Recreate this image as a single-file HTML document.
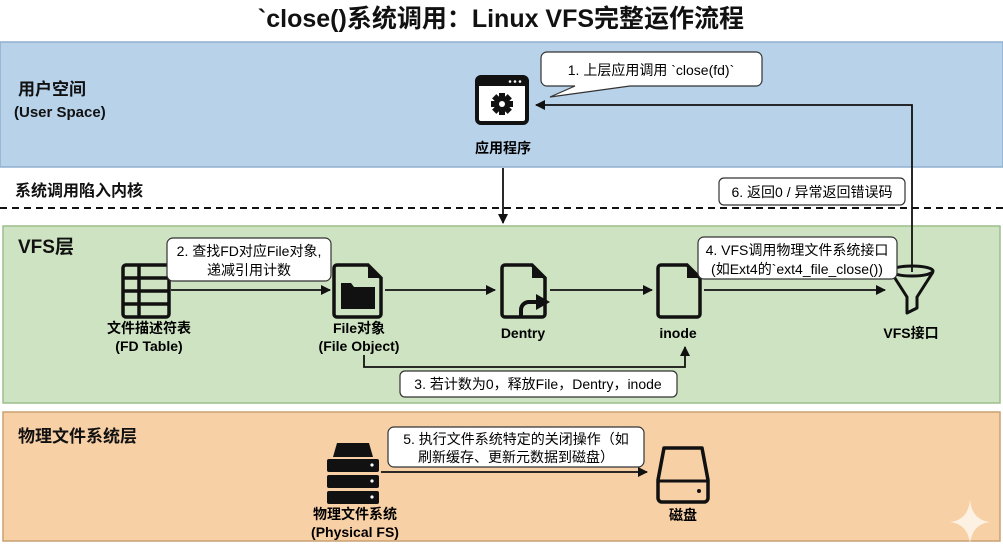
<!DOCTYPE html>
<html><head><meta charset="utf-8"><style>
html,body{margin:0;padding:0;background:#fff;width:1003px;height:553px;overflow:hidden}
text{font-family:"Liberation Sans","Noto Sans CJK SC",sans-serif}
</style></head><body>
<svg width="1003" height="553" viewBox="0 0 1003 553" xmlns="http://www.w3.org/2000/svg">
<defs>
<marker id="ah" markerWidth="10" markerHeight="10" refX="9" refY="5" orient="auto" markerUnits="userSpaceOnUse" viewBox="0 0 10 10">
<path d="M0,0 L10,5 L0,10 z" fill="#111"/></marker>
</defs>
<text x="501" y="27" font-size="25" font-weight="bold" text-anchor="middle" fill="#111">`close()系统调用：Linux VFS完整运作流程</text>
<rect x="0" y="42" width="1003" height="125" fill="#b8d2ea" stroke="#8fb0cf" stroke-width="1.5"/>
<line x1="0" y1="208" x2="1003" y2="208" stroke="#111" stroke-width="2" stroke-dasharray="7,5"/>
<rect x="3" y="226" width="997" height="177" fill="#cde3c1" stroke="#9cbf8c" stroke-width="1.5"/>
<rect x="3" y="412" width="997" height="129" fill="#f8d0a6" stroke="#c9a070" stroke-width="1.5"/>
<g font-weight="bold" fill="#111">
<text x="18" y="95" font-size="17">用户空间</text>
<text x="14" y="117" font-size="15">(User Space)</text>
<text x="15" y="196" font-size="16">系统调用陷入内核</text>
<text x="18" y="253" font-size="19">VFS层</text>
<text x="18" y="442" font-size="17">物理文件系统层</text>
</g>
<rect x="477" y="77" width="50" height="46" rx="4" fill="#fff" stroke="#111" stroke-width="4"/>
<rect x="477" y="77" width="50" height="9" fill="#111"/>
<circle cx="510" cy="81.5" r="1.3" fill="#fff"/><circle cx="515" cy="81.5" r="1.3" fill="#fff"/><circle cx="520" cy="81.5" r="1.3" fill="#fff"/>
<g transform="translate(502,104)" fill="#111">
<rect x="-3" y="-11" width="6" height="22"/>
<rect x="-3" y="-11" width="6" height="22" transform="rotate(45)"/>
<rect x="-3" y="-11" width="6" height="22" transform="rotate(90)"/>
<rect x="-3" y="-11" width="6" height="22" transform="rotate(135)"/>
<circle r="8"/><circle r="3" fill="#fff"/></g>
<text x="503" y="153" font-size="14" font-weight="bold" text-anchor="middle">应用程序</text>
<path d="M547,52 H756 a6,6 0 0 1 6,6 V80 a6,6 0 0 1 -6,6 H630 L550,97 L575,86 H547 a6,6 0 0 1 -6,-6 V58 a6,6 0 0 1 6,-6z" fill="#fff" stroke="#333" stroke-width="1.2"/>
<text x="651" y="75" font-size="14" text-anchor="middle">1. 上层应用调用 `close(fd)`</text>
<line x1="503" y1="168" x2="503" y2="223" stroke="#111" stroke-width="1.8" marker-end="url(#ah)"/>
<polyline points="912,272 912,105 536,105" fill="none" stroke="#111" stroke-width="1.8" marker-end="url(#ah)"/>
<rect x="719" y="178" width="186" height="27" rx="5" fill="#fff" stroke="#333" stroke-width="1.2"/>
<text x="812" y="197" font-size="14" text-anchor="middle">6. 返回0 / 异常返回错误码</text>
<g stroke="#111" stroke-width="3.5" fill="none">
<rect x="123" y="265" width="46" height="52" rx="3"/>
<line x1="123" y1="278" x2="169" y2="278"/><line x1="123" y1="291" x2="169" y2="291"/><line x1="123" y1="304" x2="169" y2="304"/>
<line x1="139" y1="265" x2="139" y2="317"/>
</g>
<g font-weight="bold" font-size="14" text-anchor="middle">
<text x="149" y="333">文件描述符表</text><text x="149" y="351">(FD Table)</text>
<text x="359" y="333">File对象</text><text x="359" y="351">(File Object)</text>
<text x="523" y="338">Dentry</text>
<text x="678" y="338">inode</text>
<text x="911" y="338">VFS接口</text>
<text x="355" y="519">物理文件系统</text><text x="355" y="537">(Physical FS)</text>
<text x="683" y="520">磁盘</text>
</g>
<g stroke="#111" stroke-width="1.8" fill="none">
<line x1="171" y1="290" x2="330" y2="290" marker-end="url(#ah)"/>
<line x1="385" y1="290" x2="495" y2="290" marker-end="url(#ah)"/>
<line x1="550" y1="290" x2="652" y2="290" marker-end="url(#ah)"/>
<line x1="704" y1="290" x2="885" y2="290" marker-end="url(#ah)"/>
<polyline points="364,355 364,367 685,367 685,347" marker-end="url(#ah)"/>
</g>
<path d="M337,265 H368 L381,278 V314 a3,3 0 0 1 -3,3 H337 a3,3 0 0 1 -3,-3 V268 a3,3 0 0 1 3,-3z" fill="none" stroke="#111" stroke-width="3.5"/>
<path d="M368,265 V278 H381 z" fill="#111"/>
<path d="M341,283 H351 L354,287 H375 V309 H341z" fill="#111"/>
<path d="M505,265 H532 L545,278 V314 a3,3 0 0 1 -3,3 H505 a3,3 0 0 1 -3,-3 V268 a3,3 0 0 1 3,-3z" fill="none" stroke="#111" stroke-width="3.5"/>
<path d="M532,265 V278 H545 z" fill="#111"/>
<path d="M521,318 V310 a8,8 0 0 1 8,-8 H537" fill="none" stroke="#111" stroke-width="4"/>
<path d="M536,294 L550,302 L536,310z" fill="#111"/>
<path d="M661,265 H687 L700,278 V314 a3,3 0 0 1 -3,3 H661 a3,3 0 0 1 -3,-3 V268 a3,3 0 0 1 3,-3z" fill="none" stroke="#111" stroke-width="3.5"/>
<path d="M687,265 V278 H700 z" fill="#111"/>
<ellipse cx="912" cy="271" rx="21" ry="5" fill="none" stroke="#111" stroke-width="3"/>
<path d="M891,272 L907,297 V313 L917,308 V297 L933,272" fill="none" stroke="#111" stroke-width="3" stroke-linejoin="round"/>
<rect x="167" y="238" width="164" height="43" rx="6" fill="#fff" stroke="#333" stroke-width="1.2"/>
<text x="249" y="256" font-size="14" text-anchor="middle">2. 查找FD对应File对象,</text>
<text x="249" y="275" font-size="14" text-anchor="middle">递减引用计数</text>
<rect x="698" y="237" width="199" height="42" rx="6" fill="#fff" stroke="#333" stroke-width="1.2"/>
<text x="797" y="255" font-size="14" text-anchor="middle">4. VFS调用物理文件系统接口</text>
<text x="797" y="274" font-size="14" text-anchor="middle">(如Ext4的`ext4_file_close())</text>
<rect x="400" y="371" width="277" height="26" rx="5" fill="#fff" stroke="#333" stroke-width="1.2"/>
<text x="538" y="389" font-size="14" text-anchor="middle">3. 若计数为0，释放File，Dentry，inode</text>
<path d="M333,457 L337,443 H369 L373,457z" fill="#111"/>
<rect x="327" y="459" width="52" height="13" rx="2" fill="#111"/>
<rect x="327" y="475" width="52" height="13" rx="2" fill="#111"/>
<rect x="327" y="491" width="52" height="13" rx="2" fill="#111"/>
<circle cx="372" cy="465" r="1.6" fill="#fff"/><circle cx="372" cy="481" r="1.6" fill="#fff"/><circle cx="372" cy="497" r="1.6" fill="#fff"/>
<line x1="381" y1="472" x2="647" y2="472" stroke="#111" stroke-width="1.8" marker-end="url(#ah)"/>
<rect x="388" y="427" width="256" height="40" rx="6" fill="#fff" stroke="#333" stroke-width="1.2"/>
<text x="516" y="444" font-size="14" text-anchor="middle">5. 执行文件系统特定的关闭操作（如</text>
<text x="516" y="462" font-size="14" text-anchor="middle">刷新缓存、更新元数据到磁盘）</text>
<path d="M664,448 H702 L708,480 V498 a4,4 0 0 1 -4,4 H662 a4,4 0 0 1 -4,-4 V480z" fill="none" stroke="#111" stroke-width="3.5" stroke-linejoin="round"/>
<line x1="658" y1="481" x2="708" y2="481" stroke="#111" stroke-width="3"/>
<circle cx="699" cy="491" r="2" fill="#111"/>
<path d="M970,500 Q972,520 990,522 Q972,524 970,544 Q968,524 950,522 Q968,520 970,500z" fill="#fff" opacity="0.7"/>
</svg>
</body></html>
